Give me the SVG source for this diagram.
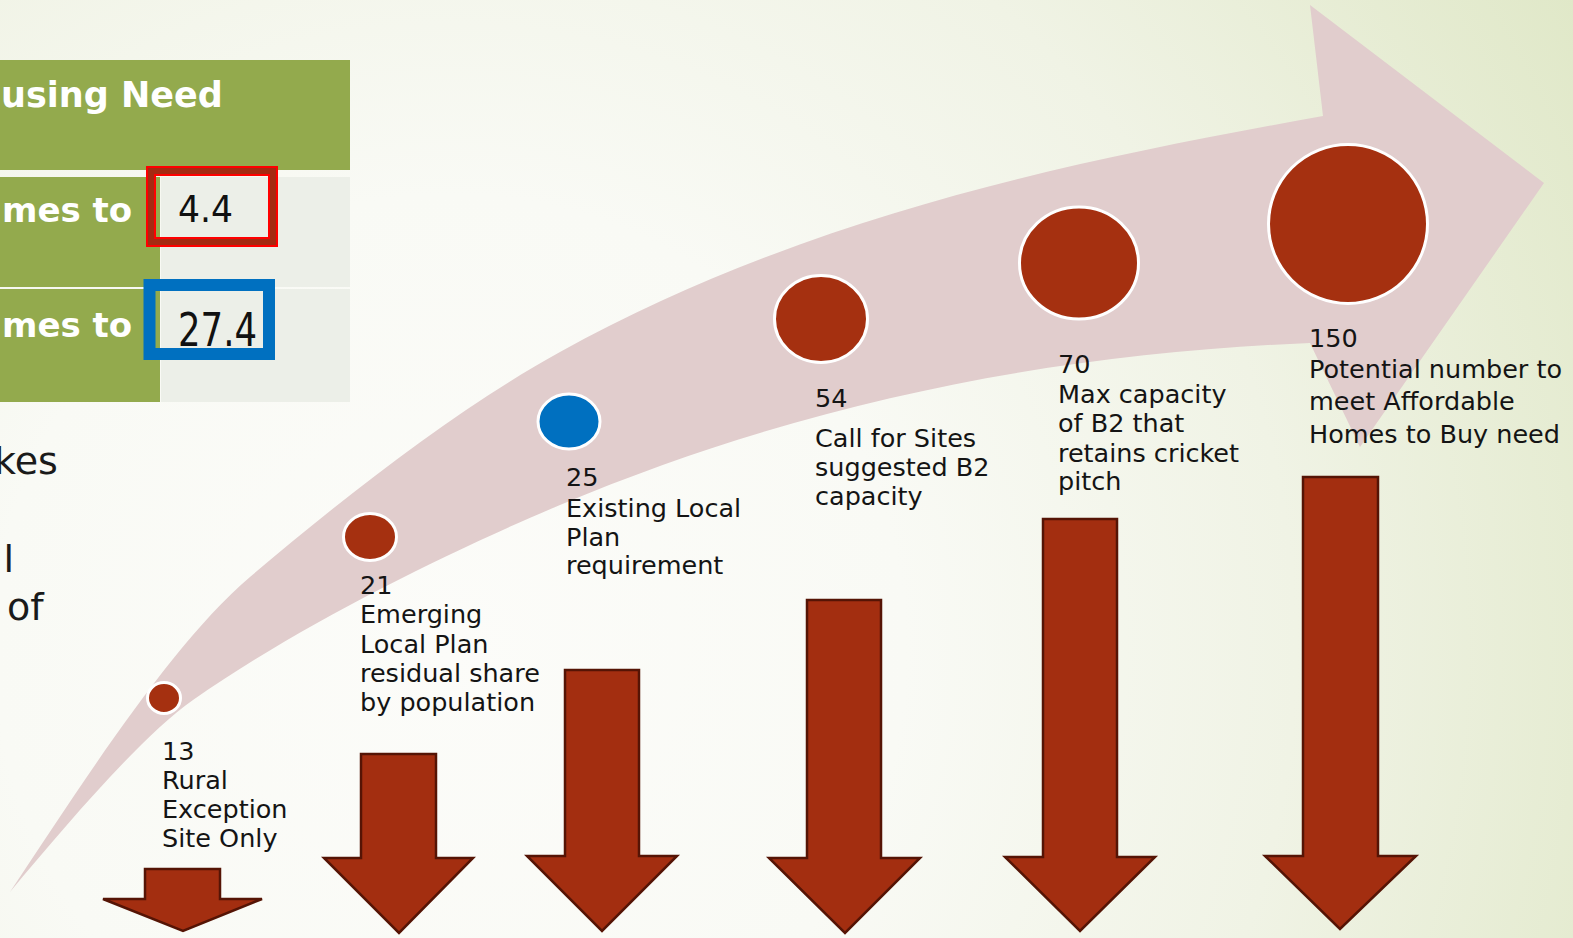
<svg xmlns="http://www.w3.org/2000/svg" width="1573" height="938" viewBox="0 0 1573 938">
<defs>
<radialGradient id="bg" cx="450" cy="650" r="1300" gradientUnits="userSpaceOnUse">
<stop offset="0" stop-color="#FCFCF9"/>
<stop offset="0.35" stop-color="#F9FAF5"/>
<stop offset="0.65" stop-color="#F0F3E5"/>
<stop offset="1" stop-color="#E0E8C8"/>
</radialGradient>
<style>
.lbl{font-family:"DejaVu Sans","Liberation Sans",sans-serif;font-size:25.5px;fill:#141414}
.hdr{font-family:"DejaVu Sans","Liberation Sans",sans-serif;font-weight:bold;fill:#FFFFFF}
.body{font-family:"DejaVu Sans","Liberation Sans",sans-serif;font-size:38px;fill:#1a1a1a}
.num{font-family:"DejaVu Sans","Liberation Sans",sans-serif;fill:#111111}
.dot{fill:#A53010;stroke:#FFFFFF;stroke-width:3}
.down{fill:#A32E10;stroke:#551405;stroke-width:2.5;stroke-linejoin:miter}
.green{fill:#93AA4D}
.light{fill:#ECEFE8}
</style>
</defs>
<rect x="0" y="0" width="1573" height="938" fill="url(#bg)"/>

<g id="table">
<rect x="0" y="60" width="350" height="110" class="green"/>
<rect x="0" y="177" width="160" height="110" class="green"/>
<rect x="161" y="177" width="189" height="110" class="light"/>
<rect x="0" y="289" width="160" height="113" class="green"/>
<rect x="161" y="289" width="189" height="113" class="light"/>
<text x="1" y="107" class="hdr" font-size="35">using Need</text>
<text x="2" y="222" class="hdr" font-size="34">mes to</text>
<text x="2" y="337" class="hdr" font-size="34">mes to</text>
<rect x="151" y="171" width="122" height="71" fill="none" stroke="#FF0000" stroke-width="10"/>
<rect x="151" y="171" width="122" height="71" fill="none" stroke="#A52A12" stroke-width="6"/>
<text x="178" y="222" class="num" font-size="38" textLength="55" lengthAdjust="spacingAndGlyphs">4.4</text>
<rect x="149.5" y="285" width="119.5" height="69" fill="none" stroke="#0070C0" stroke-width="12"/>
<text x="178" y="346" class="num" font-size="46" textLength="79" lengthAdjust="spacingAndGlyphs">27.4</text>
</g>

<g id="body-text">
<text x="-6" y="474" class="body">kes</text>
<text x="3.5" y="572" class="body">l</text>
<text x="7" y="620" class="body">of</text>
</g>

<g id="connectors">
<path id="timeline-arrow" fill="#E1CDCD" d="M 10,892 C 80,787 170,645 250,577 C 350,492 460,407 560,352 C 810,214.5 1073,161 1323,116 L 1310,5 L 1544,183 L 1360,447 L 1310,343 C 1060,353 810,400 560,505 C 450,551.2 303,623 193,700 C 143,735 70,820 10,892 Z"/>
</g>

<g id="node-13">
<ellipse cx="164" cy="698" rx="16.5" ry="15.5" class="dot"/>
<text class="lbl" x="162" y="760">13</text>
<text class="lbl" x="162" y="789">Rural</text>
<text class="lbl" x="162" y="818">Exception</text>
<text class="lbl" x="162" y="847">Site Only</text>
<path class="down" d="M145,869 L220,869 L220,899 L262,899 L183,931 L103,899 L145,899 Z"/>
</g>

<g id="node-21">
<ellipse cx="370" cy="537" rx="26.5" ry="23.5" class="dot"/>
<text class="lbl" x="360" y="594">21</text>
<text class="lbl" x="360" y="623">Emerging</text>
<text class="lbl" x="360" y="653">Local Plan</text>
<text class="lbl" x="360" y="682">residual share</text>
<text class="lbl" x="360" y="711">by population</text>
<path class="down" d="M361,754 L436,754 L436,858 L473,858 L399,933 L324,858 L361,858 Z"/>
</g>

<g id="node-25">
<ellipse cx="569" cy="421.5" rx="31" ry="27.5" fill="#0070C0" stroke="#FFFFFF" stroke-width="3"/>
<text class="lbl" x="566" y="486">25</text>
<text class="lbl" x="566" y="517">Existing Local</text>
<text class="lbl" x="566" y="546">Plan</text>
<text class="lbl" x="566" y="574">requirement</text>
<path class="down" d="M565,670 L639,670 L639,856 L677,856 L602,931 L527,856 L565,856 Z"/>
</g>

<g id="node-54">
<ellipse cx="821" cy="319" rx="46.5" ry="43.5" class="dot"/>
<text class="lbl" x="815" y="407">54</text>
<text class="lbl" x="815" y="447">Call for Sites</text>
<text class="lbl" x="815" y="476">suggested B2</text>
<text class="lbl" x="815" y="505">capacity</text>
<path class="down" d="M807,600 L881,600 L881,858 L920,858 L845,933 L769,858 L807,858 Z"/>
</g>

<g id="node-70">
<ellipse cx="1079" cy="263" rx="59.5" ry="56" class="dot"/>
<text class="lbl" x="1058" y="373">70</text>
<text class="lbl" x="1058" y="403">Max capacity</text>
<text class="lbl" x="1058" y="432">of B2 that</text>
<text class="lbl" x="1058" y="462">retains cricket</text>
<text class="lbl" x="1058" y="490">pitch</text>
<path class="down" d="M1043,519 L1117,519 L1117,857 L1155,857 L1080,931 L1005,857 L1043,857 Z"/>
</g>

<g id="node-150">
<circle cx="1348" cy="224" r="79.5" class="dot"/>
<text class="lbl" x="1309" y="347">150</text>
<text class="lbl" x="1309" y="378">Potential number to</text>
<text class="lbl" x="1309" y="410">meet Affordable</text>
<text class="lbl" x="1309" y="443">Homes to Buy need</text>
<path class="down" d="M1303,477 L1378,477 L1378,856 L1416,856 L1340,929 L1265,856 L1303,856 Z"/>
</g>
</svg>
